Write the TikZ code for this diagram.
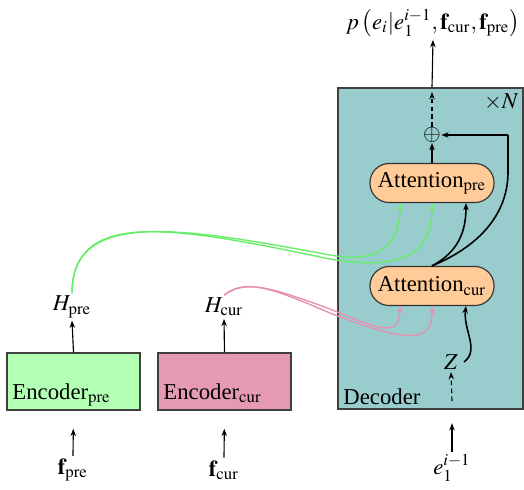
\documentclass[tikz,border=0pt]{standalone}
\usepackage{mathptmx}
\usepackage[no-math]{fontspec}
\setmainfont{Liberation Serif}
\usetikzlibrary{arrows.meta}
\definecolor{encpre}{HTML}{B3FFB3}
\definecolor{enccur}{HTML}{E699B3}
\definecolor{decfill}{HTML}{99CCCC}
\definecolor{attfill}{HTML}{FFCC99}
\definecolor{gline}{HTML}{66EE66}
\definecolor{pline}{HTML}{E691B0}
\begin{document}
\begin{tikzpicture}[x=0.44pt,y=-0.44pt,
  box/.style={draw=black!75,line width=0.5pt,minimum width=58.5pt,minimum height=25.1pt,inner sep=0pt},
  attbox/.style={draw=black!80,fill=attfill,line width=0.5pt,rounded corners=8.5pt,minimum width=54.6pt,minimum height=17.2pt,inner sep=0pt},
  lbl/.style={inner sep=1pt},
  arr/.style={-{Stealth[length=3.2pt,width=2.4pt]},line width=0.5pt},
  darr/.style={-{Stealth[length=3.2pt,width=2.4pt]},line width=0.5pt,dash pattern=on 2pt off 1.5pt},
  curv/.style={-{Stealth[length=3.2pt,width=2.4pt]},line width=0.7pt},
  gcurv/.style={-{Stealth[length=3.2pt,width=2.4pt]},line width=0.6pt,draw=gline},
  pcurv/.style={-{Stealth[length=3.2pt,width=2.4pt]},line width=0.6pt,draw=pline}]
\useasboundingbox (0,0) rectangle (524,489);
% decoder
\node[draw=black!75,fill=decfill,line width=0.5pt,minimum width=81.4pt,minimum height=141.2pt,inner sep=0pt] (dec) at (430.5,248.5) {};
\node[anchor=base west,inner sep=0pt] (declbl) at (343,404) {Decoder};
\node[anchor=east,lbl] (times) at (521,102) {$\times N$};
% encoders
\node[box,fill=encpre] (encp) at (73.5,381.5) {};
\node[anchor=base west,inner sep=0pt] (encptxt) at (12,399) {Encoder$_{\mathrm{pre}}$};
\node[box,fill=enccur] (encc) at (224.5,381.5) {};
\node[anchor=base west,inner sep=0pt] (encctxt) at (163,399) {Encoder$_{\mathrm{cur}}$};
% labels
\node[lbl] (hp) at (72,307) {$H_{\mathrm{pre}}$};
\node[lbl] (hc) at (224,307) {$H_{\mathrm{cur}}$};
\node[lbl] (fp) at (73,470) {$\mathbf{f}_{\mathrm{pre}}$};
\node[lbl] (fc) at (224,470) {$\mathbf{f}_{\mathrm{cur}}$};
\node[lbl] (e1) at (452,468) {$e_1^{i-1}$};
\node[lbl] (z) at (451,362) {$Z$};
\node[lbl] (out) at (433,23) {$p\left(e_i|e_1^{i-1},\mathbf{f}_{\mathrm{cur}},\mathbf{f}_{\mathrm{pre}}\right)$};
% attention
\node[attbox] (attp) at (432,183) {Attention$_{\mathrm{pre}}$};
\node[attbox] (attc) at (432,286) {Attention$_{\mathrm{cur}}$};
\node[inner sep=0pt] (plus) at (432,135) {$\oplus$};
% coordinates
\coordinate (ap1) at (400,203);
\coordinate (ap3) at (466,203);
\coordinate (ac1) at (400,306);
\coordinate (ac3) at (466,306);
\coordinate (zs) at (464,362);
\coordinate (rc) at (508,135);
\coordinate (zd) at (452,401);
% arrows
\draw[arr] (encp.north) -- (hp.south);
\draw[arr] (encc.north) -- (hc.south);
\draw[arr,shorten >=8pt] (fp.north) -- (encp.south);
\draw[arr,shorten >=8pt] (fc.north) -- (encc.south);
\draw[arr,shorten >=6pt] (e1.north) -- (e1.north |- dec.south);
\draw[darr] (zd) -- (z.south);
\draw[arr] (attp.north) -- (plus.south);
\draw[darr,shorten >=2pt] (plus.north) -- (plus.north |- dec.north);
\draw[arr] (plus.north |- dec.north) -- (out.south);
% green curves
\draw[gcurv] (hp.north) .. controls (72,210) and (175,226) .. (330,255) .. controls (385,265) and (400,240) .. (ap1);
\draw[gcurv] (hp.north) .. controls (72,206) and (180,228) .. (330,259) .. controls (420,274) and (432,240) .. (attp.south);
% pink curves
\draw[pcurv] (hc.north) .. controls (245,280) and (268,286) .. (330,309) .. controls (375,327) and (399,340) .. (ac1);
\draw[pcurv] (hc.north) .. controls (245,278) and (272,288) .. (330,313) .. controls (405,342) and (433,345) .. (attc.south);
% black curves
\draw[curv] (attc.north) .. controls (458,252) and (466,232) .. (ap3);
\draw[line width=0.7pt] (attc.north) .. controls (482,245) and (508,212) .. (508,172) -- (rc);
\draw[curv] (rc) -- (plus.east);
\draw[curv] (zs) .. controls (480,350) and (463,330) .. (ac3);
\end{tikzpicture}
\end{document}
